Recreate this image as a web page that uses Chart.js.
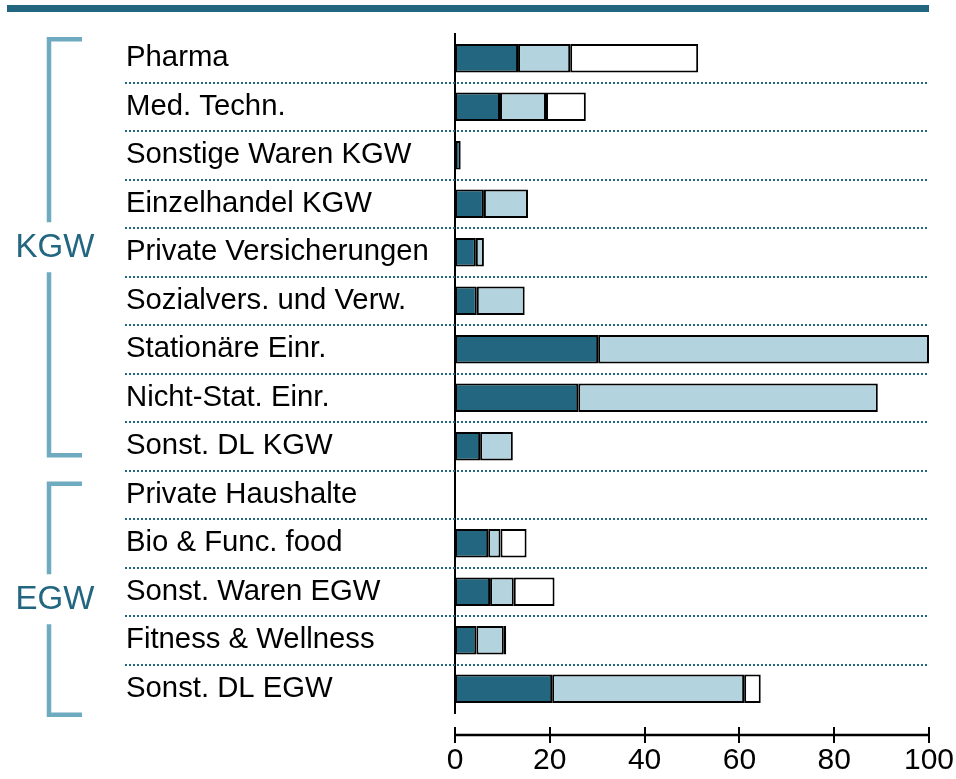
<!DOCTYPE html>
<html>
<head>
<meta charset="utf-8">
<script src="https://cdn.jsdelivr.net/npm/chart.js@4.4.1/dist/chart.umd.min.js"></script>
<style>
html,body{margin:0;padding:0;background:#fff;}
canvas{display:block;}
</style>
</head>
<body>
<canvas id="c" width="956" height="779"></canvas>
<script>
const categories = [
  "Pharma", "Med. Techn.", "Sonstige Waren KGW", "Einzelhandel KGW",
  "Private Versicherungen", "Sozialvers. und Verw.", "Stationäre Einr.",
  "Nicht-Stat. Einr.", "Sonst. DL KGW", "Private Haushalte",
  "Bio & Func. food", "Sonst. Waren EGW", "Fitness & Wellness", "Sonst. DL EGW"
];
const seriesDark  = [13.3, 9.5, 1.2, 6.1, 4.4, 4.6, 30.2, 26.0, 5.3, null, 7.0, 7.4, 4.5, 20.5];
const seriesLight = [11.0, 9.7, null, 9.3, 1.7, 10.1, 69.8, 63.2, 6.9, null, 2.6, 5.0, 5.8, 40.5];
const seriesWhite = [27.0, 8.4, null, null, null, null, null, null, null, null, 5.5, 8.6, 0.5, 3.5];
const xTicks = [0, 20, 40, 60, 80, 100];
const groups = [
  { label: "KGW", first: 0, last: 8 },
  { label: "EGW", first: 9, last: 13 }
];

const DARK = '#236680', LIGHT = '#b3d4de', BRACKET = '#6eaac0';
const FONT = '"Liberation Sans", Arial, sans-serif';

const decor = {
  id: 'decor',
  beforeDatasetsDraw(chart) {
    const ctx = chart.ctx, y = chart.scales.y, area = chart.chartArea;
    ctx.save();
    ctx.fillStyle = DARK;
    ctx.fillRect(7, 5, area.right - 7, 7);
    ctx.strokeStyle = DARK;
    ctx.lineWidth = 2;
    ctx.setLineDash([2, 2]);
    for (let i = 0; i < categories.length - 1; i++) {
      const yy = Math.round((y.getPixelForValue(i) + y.getPixelForValue(i + 1)) / 2);
      ctx.beginPath();
      ctx.moveTo(125, yy);
      ctx.lineTo(area.right, yy);
      ctx.stroke();
    }
    ctx.restore();
  },
  afterDraw(chart) {
    const ctx = chart.ctx, x = chart.scales.x, y = chart.scales.y, area = chart.chartArea;
    ctx.save();
    const ay = area.bottom + 22;
    ctx.strokeStyle = '#000';
    ctx.lineWidth = 2.5;
    ctx.beginPath();
    ctx.moveTo(x.getPixelForValue(xTicks[0]), ay);
    ctx.lineTo(x.getPixelForValue(xTicks[xTicks.length - 1]), ay);
    ctx.stroke();
    ctx.lineWidth = 2;
    xTicks.forEach(v => {
      const px = Math.round(x.getPixelForValue(v));
      ctx.beginPath();
      ctx.moveTo(px, ay - 8);
      ctx.lineTo(px, ay + 8);
      ctx.stroke();
    });
    const bx = 49, armX = 82;
    ctx.lineWidth = 4.5;
    ctx.strokeStyle = BRACKET;
    groups.forEach((g, gi) => {
      const top = gi === 0 ? y.getPixelForValue(g.first) - 19 : y.getPixelForValue(g.first) - 11;
      const bot = gi === 0 ? y.getPixelForValue(g.last) + 9 : y.getPixelForValue(g.last) + 26;
      const mid = (top + bot) / 2;
      ctx.beginPath();
      ctx.moveTo(armX, top);
      ctx.lineTo(bx, top);
      ctx.lineTo(bx, mid - 25);
      ctx.moveTo(bx, mid + 25);
      ctx.lineTo(bx, bot);
      ctx.lineTo(armX, bot);
      ctx.stroke();
      ctx.fillStyle = DARK;
      ctx.font = '33px ' + FONT;
      ctx.textAlign = 'center';
      ctx.textBaseline = 'middle';
      ctx.fillText(g.label, 55, mid + 1);
    });
    ctx.restore();
  }
};

new Chart(document.getElementById('c'), {
  type: 'bar',
  data: {
    labels: categories,
    datasets: [
      { label: 'A', data: seriesDark, backgroundColor: DARK },
      { label: 'B', data: seriesLight, backgroundColor: LIGHT },
      { label: 'C', data: seriesWhite, backgroundColor: '#ffffff' }
    ].map(d => Object.assign(d, {
      borderColor: '#000', borderWidth: 2, borderSkipped: false,
      barPercentage: 0.59, categoryPercentage: 1.0
    }))
  },
  options: {
    indexAxis: 'y',
    responsive: false,
    animation: false,
    events: [],
    layout: { padding: { left: 126, right: 27, top: 34, bottom: 0 } },
    plugins: { legend: { display: false }, tooltip: { enabled: false } },
    scales: {
      x: {
        stacked: true, min: 0, max: 100,
        afterBuildTicks(scale) { scale.ticks = xTicks.map(v => ({ value: v })); },
        afterFit(scale) { scale.height = 66; scale.paddingRight = 0; scale.paddingLeft = 0; },
        grid: { display: false, drawTicks: false },
        border: { display: false },
        ticks: { color: '#000', font: { family: FONT, size: 30 }, padding: 30, maxRotation: 0 }
      },
      y: {
        stacked: true,
        afterFit(scale) { scale.width = 329; scale.paddingTop = 0; scale.paddingBottom = 0; },
        grid: { display: false, drawTicks: false },
        border: { display: true, color: '#000', width: 2 },
        ticks: { color: '#000', font: { family: FONT, size: 29.3 }, crossAlign: 'far', padding: 0 }
      }
    }
  },
  plugins: [decor]
});
</script>
</body>
</html>
